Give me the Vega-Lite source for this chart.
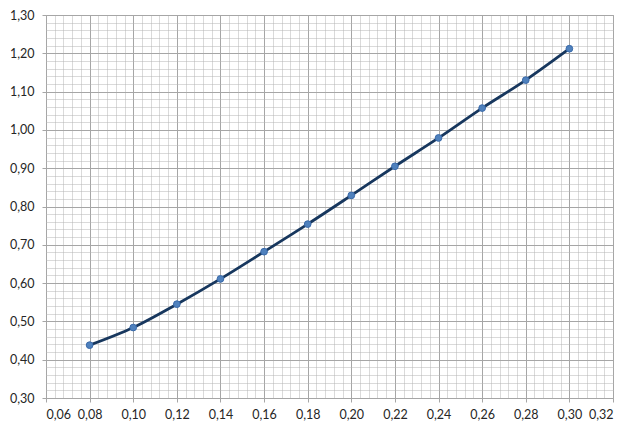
{
  "$schema": "https://vega.github.io/schema/vega-lite/v6.json",
  "width": 567,
  "height": 383,
  "autosize": "none",
  "padding": {"left": 46, "top": 15, "right": 27, "bottom": 32},
  "background": "white",
  "config": {
    "view": {"stroke": "#A6A6A6", "strokeWidth": 1},
    "axis": {"labelFont": "Lato", "labelFontSize": 12.5, "labelColor": "#262626", "domain": false}
  },
  "data": {"values": [
    {"x": 0.08, "y": 0.438},
    {"x": 0.10, "y": 0.484},
    {"x": 0.12, "y": 0.545},
    {"x": 0.14, "y": 0.611},
    {"x": 0.16, "y": 0.682},
    {"x": 0.18, "y": 0.754},
    {"x": 0.20, "y": 0.829},
    {"x": 0.22, "y": 0.905},
    {"x": 0.24, "y": 0.979},
    {"x": 0.26, "y": 1.057},
    {"x": 0.28, "y": 1.130},
    {"x": 0.30, "y": 1.212}
  ]},
  "resolve": {"axis": {"x": "independent", "y": "independent"}},
  "layer": [
    {
      "mark": {"type": "line", "interpolate": "monotone", "color": "#17375E", "strokeWidth": 2.8},
      "encoding": {
        "x": {"field": "x", "type": "quantitative", "scale": {"domain": [0.06, 0.32], "nice": false, "zero": false},
          "axis": {"orient": "bottom", "title": null, "labels": false, "ticks": false, "grid": true,
            "gridColor": "#B4B4B4", "gridDash": [1, 1], "gridWidth": 1,
            "values": [0.064,0.068,0.072,0.076,0.084,0.088,0.092,0.096,0.104,0.108,0.112,0.116,0.124,0.128,0.132,0.136,0.144,0.148,0.152,0.156,0.164,0.168,0.172,0.176,0.184,0.188,0.192,0.196,0.204,0.208,0.212,0.216,0.224,0.228,0.232,0.236,0.244,0.248,0.252,0.256,0.264,0.268,0.272,0.276,0.284,0.288,0.292,0.296,0.304,0.308,0.312,0.316]}},
        "y": {"field": "y", "type": "quantitative", "scale": {"domain": [0.3, 1.3], "nice": false, "zero": false},
          "axis": {"orient": "left", "title": null, "labels": false, "ticks": false, "grid": true,
            "gridColor": "#B4B4B4", "gridDash": [1, 1], "gridWidth": 1,
            "values": [0.32,0.34,0.36,0.38,0.42,0.44,0.46,0.48,0.52,0.54,0.56,0.58,0.62,0.64,0.66,0.68,0.72,0.74,0.76,0.78,0.82,0.84,0.86,0.88,0.92,0.94,0.96,0.98,1.02,1.04,1.06,1.08,1.12,1.14,1.16,1.18,1.22,1.24,1.26,1.28]}}
      }
    },
    {
      "mark": {"type": "point", "filled": true, "size": 45, "color": "#4F81BD", "stroke": "#3A6AAA", "strokeWidth": 1, "opacity": 1},
      "encoding": {
        "x": {"field": "x", "type": "quantitative",
          "axis": {"orient": "bottom", "title": null, "grid": true, "gridColor": "#A6A6A6", "gridWidth": 1,
            "ticks": true, "tickColor": "#A6A6A6", "tickSize": 4, "labelPadding": 6,
            "values": [0.06,0.08,0.10,0.12,0.14,0.16,0.18,0.20,0.22,0.24,0.26,0.28,0.30,0.32],
            "labelExpr": "replace(format(datum.value, '.2f'), '.', ',')"}},
        "y": {"field": "y", "type": "quantitative",
          "axis": {"orient": "left", "title": null, "grid": true, "gridColor": "#A6A6A6", "gridWidth": 1,
            "ticks": true, "tickColor": "#A6A6A6", "tickSize": 4, "labelPadding": 8,
            "values": [0.3,0.4,0.5,0.6,0.7,0.8,0.9,1.0,1.1,1.2,1.3],
            "labelExpr": "replace(format(datum.value, '.2f'), '.', ',')"}}
      }
    }
  ]
}
